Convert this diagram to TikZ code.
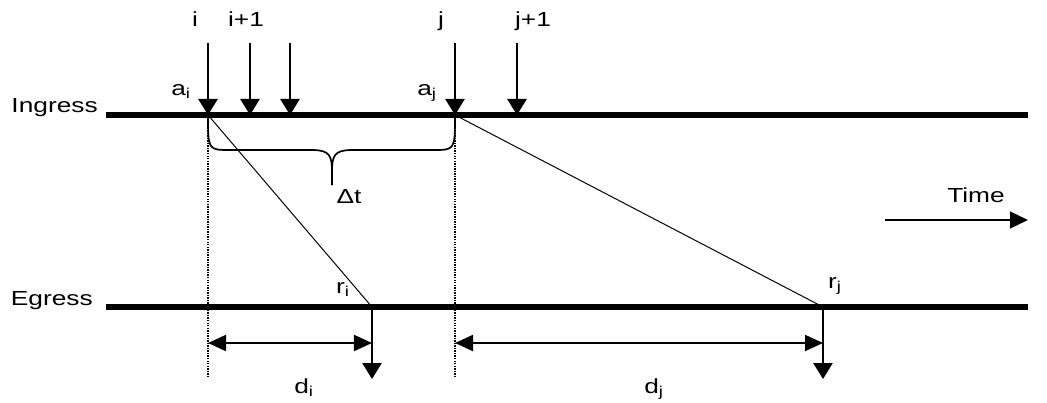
\documentclass[tikz,border=0pt]{standalone}
\usepackage{fontspec}
\setmainfont[FakeStretch=1.29]{Liberation Sans}
\usetikzlibrary{arrows.meta}

\begin{document}
\begin{tikzpicture}[x=0.025cm, y=-0.025cm, font=\fontsize{14.5}{17}\selectfont,
  axis/.style={line width=3.6pt},
  pkt/.style={line width=1.4pt, -{Triangle[length=0.4cm, width=0.48cm]}},
  span/.style={line width=1.4pt, {Triangle[length=0.45cm, width=0.4cm]}-{Triangle[length=0.45cm, width=0.4cm]}},
  guide/.style={line width=0.8pt, dash pattern=on 1pt off 0.8pt},
  lbl/.style={anchor=base, inner sep=0pt}]
  \useasboundingbox (0,0) rectangle (1047,402);
  % ingress and egress time lines
  \coordinate (in0) at (106,115); \coordinate (in1) at (1028,115);
  \coordinate (eg0) at (106,307); \coordinate (eg1) at (1028,307);
  \draw[axis] (in0) -- (in1);
  \draw[axis] (eg0) -- (eg1);
  \node[anchor=base east, inner sep=0pt] (ingress) at (98,112) {Ingress};
  \node[anchor=base east, inner sep=0pt] (egress) at (93,305) {Egress};
  % arrivals
  \coordinate (ai) at (208,115); \coordinate (aj) at (455,115);
  \coordinate (a2) at (250,115); \coordinate (a3) at (290,115);
  \coordinate (a4) at (517,115);
  \foreach \p in {ai,a2,a3,aj,a4}
    \draw[pkt] (\p) ++(0,-72) coordinate (\p top) -- (\p);
  \node[lbl] (li) at (195,26) {i};
  \node[lbl] (li1) at (246,26) {i+1};
  \node[lbl] (lj) at (441,26) {j};
  \node[lbl] (lj1) at (533,26) {j+1};
  \node[lbl] (lai) at (181,95) {a\textsubscript{i}};
  \node[lbl] (laj) at (427,95) {a\textsubscript{j}};
  % departures
  \coordinate (ri) at (372,307); \coordinate (rj) at (823,307);
  \draw[pkt] (ri) -- ++(0,72) coordinate (ribot);
  \draw[pkt] (rj) -- ++(0,72) coordinate (rjbot);
  \draw[line width=0.7pt] (ai) -- (ri);
  \draw[line width=0.7pt] (aj) -- (rj);
  \node[lbl] (lri) at (343,293) {r\textsubscript{i}};
  \node[lbl] (lrj) at (835,288) {r\textsubscript{j}};
  % delays
  \draw[guide] (ai) -- ++(0,262) coordinate (gi);
  \draw[guide] (aj) -- ++(0,262) coordinate (gj);
  \coordinate (di0) at (208,343); \coordinate (dj0) at (455,343);
  \draw[span] (di0) -- (ri |- di0);
  \draw[span] (dj0) -- (rj |- dj0);
  \node[lbl] (ldi) at (304,393) {d\textsubscript{i}};
  \node[lbl] (ldj) at (654,393) {d\textsubscript{j}};
  % inter-arrival gap
  \coordinate (tip) at (332,185);
  \draw[line width=1.2pt] (ai) .. controls (208,150) .. (230,150) -- (312,150)
    .. controls (330,150) and (332,156) .. (332,172) -- (tip);
  \draw[line width=1.2pt] (aj) .. controls (455,150) .. (433,150) -- (352,150)
    .. controls (334,150) and (332,156) .. (332,172) -- (tip);
  \node[lbl] (dt) at (349,203) {Δt};
  % time direction
  \coordinate (t0) at (885,220); \coordinate (t1) at (1028,220);
  \draw[line width=1.4pt, -{Triangle[length=0.45cm, width=0.42cm]}] (t0) -- (t1);
  \node[lbl] (time) at (976,202) {Time};
\end{tikzpicture}
\end{document}
